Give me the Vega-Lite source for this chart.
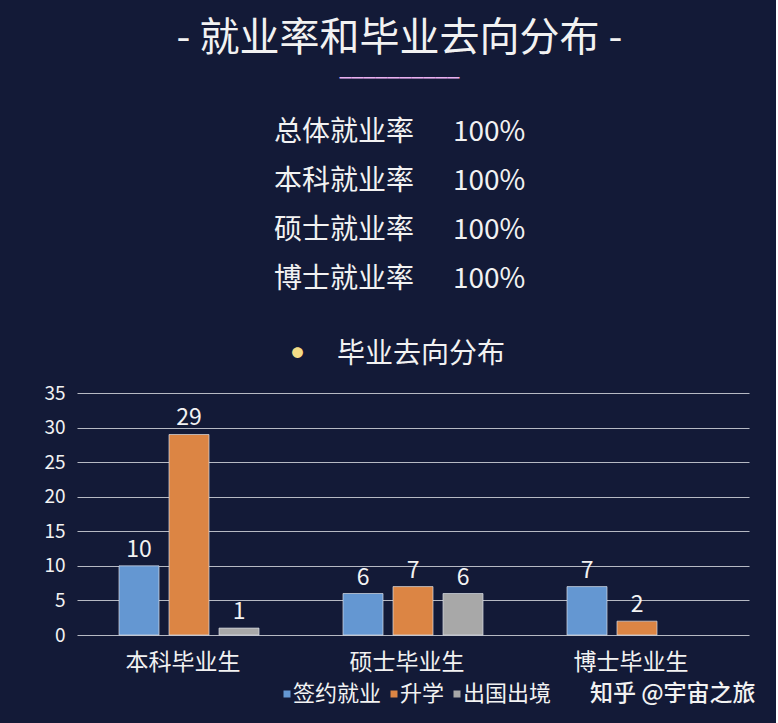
{
  "$schema": "https://vega.github.io/schema/vega-lite/v6.json",
  "background": "#131a37",
  "padding": {"left": 43, "top": 18, "right": 21, "bottom": 18},
  "config": {"view": {"stroke": null}, "font": "Noto Sans CJK SC"},
  "title": {
    "text": "- 就业率和毕业去向分布 -",
    "subtitle": "━━━━━━━━━━",
    "font": "Noto Sans CJK SC",
    "fontSize": 40,
    "fontWeight": "normal",
    "color": "#f2f2f2",
    "subtitleFont": "Noto Sans CJK SC",
    "subtitleFontSize": 12,
    "subtitleColor": "#e9b0f0",
    "subtitlePadding": 15,
    "anchor": "middle",
    "offset": 23.5
  },
  "spacing": 36,
  "vconcat": [
    {
      "width": 672,
      "height": 196,
      "data": {"values": [
        {"类别": "总体就业率", "就业率": "100%"},
        {"类别": "本科就业率", "就业率": "100%"},
        {"类别": "硕士就业率", "就业率": "100%"},
        {"类别": "博士就业率", "就业率": "100%"}
      ]},
      "encoding": {
        "y": {"field": "类别", "type": "nominal", "sort": null, "axis": null, "scale": {"paddingInner": 0, "paddingOuter": 0}}
      },
      "layer": [
        {
          "mark": {"type": "text", "align": "right", "baseline": "middle", "fontSize": 28, "color": "#f2f2f2", "dx": -19.5},
          "encoding": {
            "x": {"datum": 0.5305, "type": "quantitative", "scale": {"domain": [0, 1]}, "axis": null},
            "text": {"field": "类别"}
          }
        },
        {
          "mark": {"type": "text", "align": "left", "baseline": "middle", "fontSize": 28, "color": "#f2f2f2", "dx": 19.5},
          "encoding": {
            "x": {"datum": 0.5305, "type": "quantitative", "scale": {"domain": [0, 1]}, "axis": null},
            "text": {"field": "就业率"}
          }
        }
      ]
    },
    {
      "width": 672,
      "height": 242,
      "title": {"text": "毕业去向分布", "font": "Noto Sans CJK SC", "fontSize": 28, "fontWeight": "normal", "color": "#f2f2f2", "anchor": "middle", "frame": "group", "dx": 8, "offset": -21.5},
      "data": {"values": [
        {"毕业生": "本科毕业生", "去向": "签约就业", "人数": 10},
        {"毕业生": "本科毕业生", "去向": "升学", "人数": 29},
        {"毕业生": "本科毕业生", "去向": "出国出境", "人数": 1},
        {"毕业生": "硕士毕业生", "去向": "签约就业", "人数": 6},
        {"毕业生": "硕士毕业生", "去向": "升学", "人数": 7},
        {"毕业生": "硕士毕业生", "去向": "出国出境", "人数": 6},
        {"毕业生": "博士毕业生", "去向": "签约就业", "人数": 7},
        {"毕业生": "博士毕业生", "去向": "升学", "人数": 2}
      ]},
      "encoding": {
        "x": {
          "field": "毕业生", "type": "nominal", "sort": null,
          "scale": {"paddingInner": 0, "paddingOuter": 0},
          "axis": {
            "domain": false, "ticks": false, "tickSize": 0, "labelAngle": 0,
            "labelColor": "#f2f2f2", "labelFontSize": 23, "labelPadding": 16, "labelOffset": -6, "labelFont": "Noto Sans CJK SC",
            "title": "知乎 @宇宙之旅", "titleColor": "#f2f2f2", "titleFontSize": 23, "titleFontWeight": 500,
            "titleFont": "Noto Sans CJK SC", "titleX": 678, "titleY": 58, "titleAlign": "right", "titleBaseline": "middle"
          }
        },
        "xOffset": {"field": "去向", "type": "nominal", "scale": {"domain": ["签约就业", "升学", "出国出境"], "paddingInner": 0.2, "paddingOuter": 0.84}},
        "y": {
          "field": "人数", "type": "quantitative",
          "scale": {"domain": [0, 35]},
          "axis": {
            "values": [0, 5, 10, 15, 20, 25, 30, 35],
            "grid": true, "gridColor": "#d4d6dc", "gridWidth": 1, "gridOpacity": 0.85,
            "domain": false, "ticks": false, "tickSize": 0,
            "labelColor": "#f2f2f2", "labelFontSize": 19, "labelPadding": 12,
            "title": "●", "titleAngle": 0, "titleX": 220, "titleY": -40, "titleColor": "#f3dc86",
            "titleFontSize": 12, "titleAlign": "center", "titleBaseline": "middle"
          }
        }
      },
      "layer": [
        {
          "mark": {"type": "bar", "stroke": "#d8dde6", "strokeWidth": 1, "strokeOpacity": 0.7},
          "encoding": {
            "color": {
              "field": "去向", "type": "nominal",
              "scale": {"domain": ["签约就业", "升学", "出国出境"], "range": ["#6497d2", "#dc8544", "#a8a8a8"]},
              "legend": {
                "orient": "none", "legendX": 199, "legendY": 575, "direction": "horizontal", "title": null,
                "symbolType": "square", "symbolSize": 49, "symbolStrokeWidth": 0,
                "labelFontSize": 22, "labelColor": "#f2f2f2", "labelOffset": -5, "columnPadding": 1,
                "labelFont": "Noto Sans CJK SC"
              }
            }
          }
        },
        {
          "mark": {"type": "text", "baseline": "alphabetic", "dy": -9, "fontSize": 23, "color": "#f2f2f2"},
          "encoding": {"text": {"field": "人数", "type": "quantitative"}}
        }
      ]
    }
  ]
}
